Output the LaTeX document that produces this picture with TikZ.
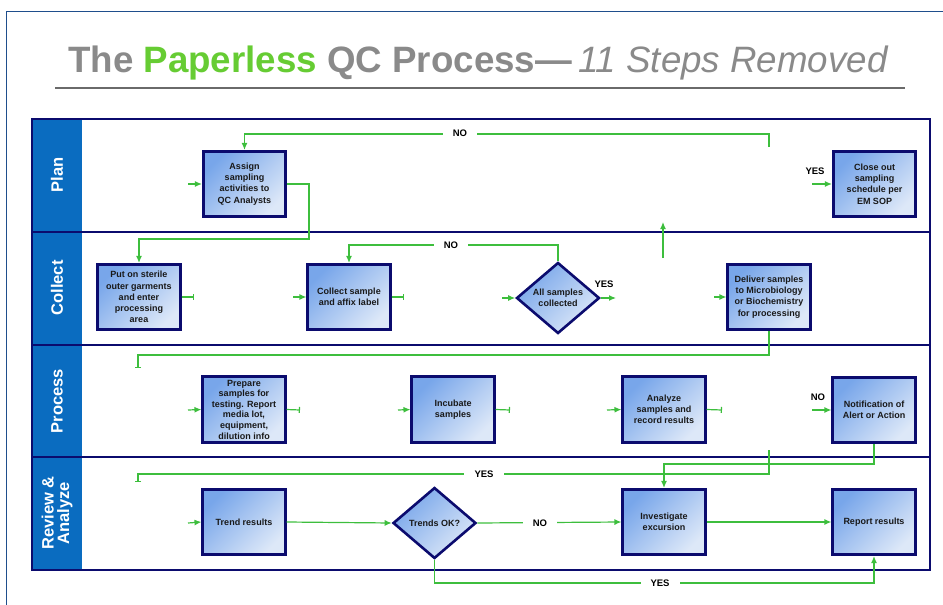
\documentclass[tikz,border=0pt]{standalone}
\usepackage{fontspec}
\setmainfont{Liberation Sans}
\usetikzlibrary{shapes.geometric,arrows.meta}
\definecolor{navy}{HTML}{0B0B6E}
\definecolor{flowgreen}{HTML}{3DBE3D}
\definecolor{laneblue}{HTML}{0A6CC0}
\definecolor{boxdark}{HTML}{78A6EA}
\definecolor{boxlight}{HTML}{DDE8F8}
\definecolor{titlegray}{HTML}{8A8A8A}
\definecolor{titlegreen}{HTML}{66CC33}
\definecolor{framecol}{HTML}{1F4E8C}
\definecolor{rulegray}{HTML}{6A6A6A}
\begin{document}
\begin{tikzpicture}[x=1pt,y=-1pt,
  procbox/.style={draw=navy, line width=2.6pt, top color=boxdark, bottom color=boxlight,
    shading angle=45, minimum width=82.5pt, minimum height=65.5pt, inner sep=1pt,
    align=center, font=\fontsize{9}{11.2}\selectfont\bfseries, text=black!90},
  decision/.style={diamond, draw=navy, line width=2.6pt, top color=boxdark, bottom color=boxlight,
    shading angle=45, minimum width=83pt, minimum height=71pt, inner sep=0pt,
    align=center, font=\fontsize{9}{11.2}\selectfont\bfseries, text=black!90},
  flow/.style={draw=flowgreen, line width=1.2pt, -{Latex[length=7pt,width=6pt]}},
  stub/.style={draw=flowgreen, line width=1.2pt, -{Bar[width=6pt]}},
  gapl/.style={font=\fontsize{9.5}{11}\selectfont\bfseries, fill=white, inner xsep=10pt, inner ysep=1pt},
  freel/.style={font=\fontsize{9.5}{11}\selectfont\bfseries, inner sep=0pt},
  lanel/.style={rotate=90, text=white, align=center, font=\fontsize{16.5}{15.5}\selectfont\bfseries}
]
\useasboundingbox (0,0) rectangle (943,605);
% outer frame
\draw[framecol, line width=1pt] (6,605) -- (6,11) -- (943,11);
% title
\node[anchor=base west, inner sep=0pt] (title) at (68,72)
  {\fontsize{36.7}{40}\selectfont\color{titlegray}\bfseries The {\color{titlegreen}Paperless} QC Process—\mdseries\itshape\,11 Steps Removed};
\draw[rulegray, line width=1.2pt] (55,88) -- (905,88);
% lanes
\fill[laneblue] (32,119) rectangle (82,570);
\draw[navy, line width=2.6pt] (32,119) rectangle (930,570);
\draw[navy, line width=2.6pt] (32,232) -- (930,232);
\draw[navy, line width=2.6pt] (32,345) -- (930,345);
\draw[navy, line width=2.6pt] (32,457) -- (930,457);
\node[lanel] (lplan) at (57,175) {Plan};
\node[lanel] (lcollect) at (57,288) {Collect};
\node[lanel] (lprocess) at (57,401) {Process};
\node[lanel] (lreview) at (57,513) {Review \&\\Analyze};
% nodes
\node[procbox] (assign) at (244.5,184) {Assign\\sampling\\activities to\\QC Analysts};
\node[procbox] (closeout) at (874.5,184) {Close out\\sampling\\schedule per\\EM SOP};
\node[procbox] (puton) at (139,297) {Put on sterile\\outer garments\\and enter\\processing\\area};
\node[procbox] (collect) at (349,297) {Collect sample\\and affix label};
\node[decision] (allcol) at (558,298) {All samples\\collected};
\node[procbox] (deliver) at (769,297) {Deliver samples\\to Microbiology\\or Biochemistry\\for processing};
\node[procbox, font=\fontsize{9}{10.6}\selectfont\bfseries] (prepare) at (244,409.5) {Prepare\\samples for\\testing. Report\\media lot,\\equipment,\\dilution info};
\node[procbox] (incubate) at (453,409.5) {Incubate\\samples};
\node[procbox] (analyze) at (664,409.5) {Analyze\\samples and\\record results};
\node[procbox] (notif) at (874,410) {Notification of\\Alert or Action};
\node[procbox] (trend) at (244,522) {Trend results};
\node[decision] (trendok) at (434.5,523) {Trends OK?};
\node[procbox] (invest) at (664,522) {Investigate\\excursion};
\node[procbox] (report) at (874,522) {Report results};
% free-end coordinates
\coordinate (plandec) at (769,147);
\coordinate (inassign) at (188,184);
\coordinate (upstart) at (663,258);
\coordinate (upend) at (663,222);
\coordinate (inclose) at (812,184);
\coordinate (outputon) at (194,297);
\coordinate (incollect) at (293,297);
\coordinate (outcollect) at (404,297);
\coordinate (inallcol) at (502,298);
\coordinate (outallcol) at (616,298);
\coordinate (indeliver) at (714,297);
\coordinate (procstub) at (138,368);
\coordinate (inprepare) at (188,410);
\coordinate (outprepare) at (300,410);
\coordinate (inincubate) at (398,410);
\coordinate (outincubate) at (510,410);
\coordinate (inanalyze) at (607,410);
\coordinate (outanalyze) at (722,410);
\coordinate (innotif) at (812,410);
\coordinate (procdec) at (769,450);
\coordinate (reviewstub) at (138,482);
\coordinate (intrend) at (188,523);
% connectors
\draw[flow] (plandec) -- (769,134) -| (assign.north);
\draw[flow] (inassign) -- (assign.west);
\draw[flow] (assign.east) -- (309,184) -- (309,239) -| (puton.north);
\draw[flow] (upstart) -- (upend);
\draw[flow] (inclose) -- (closeout.west);
\draw[stub] (puton.east) -- (outputon);
\draw[flow] (incollect) -- (collect.west);
\draw[stub] (collect.east) -- (outcollect);
\draw[flow] (inallcol) -- (allcol.west);
\draw[flow] (allcol.east) -- (outallcol);
\draw[flow] (allcol.north) -- (558,245) -| (collect.north);
\draw[flow] (indeliver) -- (deliver.west);
\draw[stub] (deliver.south) -- (769,355) -| (procstub);
\draw[flow] (inprepare) -- (prepare.west);
\draw[stub] (prepare.east) -- (outprepare);
\draw[flow] (inincubate) -- (incubate.west);
\draw[stub] (incubate.east) -- (outincubate);
\draw[flow] (inanalyze) -- (analyze.west);
\draw[stub] (analyze.east) -- (outanalyze);
\draw[flow] (innotif) -- (notif.west);
\draw[stub] (procdec) -- (769,474) -| (reviewstub);
\draw[flow] (notif.south) -- (874,464) -| (invest.north);
\draw[flow] (intrend) -- (trend.west);
\draw[flow] (trend.east) -- (trendok.west);
\draw[flow] (trendok.east) -- (invest.west);
\draw[flow] (invest.east) -- (report.west);
\draw[flow] (trendok.south) -- (434.5,583) -| (report.south);
% labels
\node[gapl] (noplan) at (460,133) {NO};
\node[gapl] (nocollect) at (451,245) {NO};
\node[gapl] (yesreview) at (484,474) {YES};
\node[gapl] (noreview) at (540,523) {NO};
\node[gapl] (yesbottom) at (660,583) {YES};
\node[freel] (yesplan) at (815,171) {YES};
\node[freel] (yescollect) at (604,284) {YES};
\node[freel] (noprocess) at (818,397) {NO};
\end{tikzpicture}
\end{document}
